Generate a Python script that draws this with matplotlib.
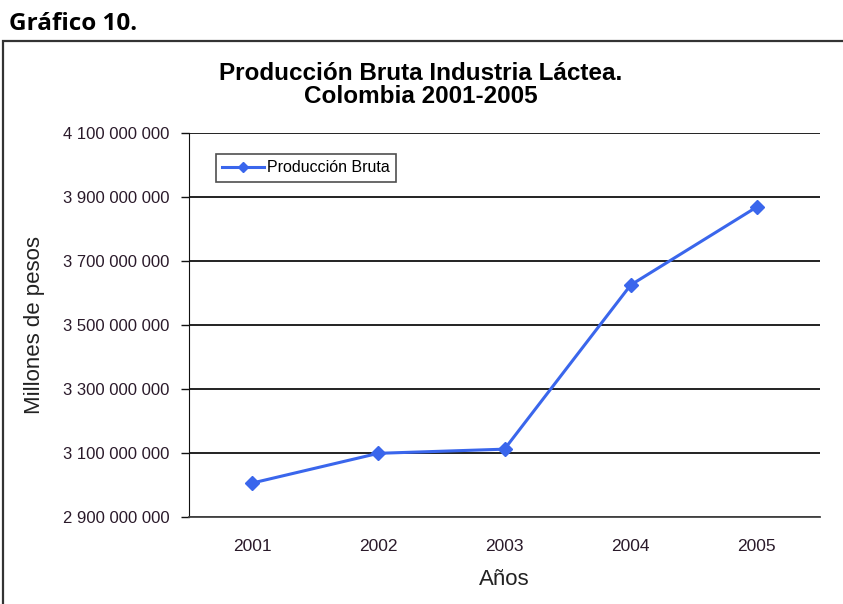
import matplotlib
matplotlib.use("Agg")
import matplotlib.pyplot as plt
from matplotlib.patches import Rectangle
from matplotlib.ticker import FuncFormatter, FixedLocator

years = ["2001", "2002", "2003", "2004", "2005"]
produccion = [3006000000, 3099000000, 3112000000, 3625000000, 3869000000]
y_ticks = [2900000000, 3100000000, 3300000000, 3500000000, 3700000000, 3900000000, 4100000000]

W, H = 843, 604
fig = plt.figure(figsize=(W / 100, H / 100), dpi=100)
fig.patch.set_facecolor("white")

# outer chart frame
fig.patches.append(Rectangle((2.5 / W, -0.05), 1.0, 1 - 41 / H + 0.05,
                             transform=fig.transFigure, fill=False,
                             edgecolor="#333333", linewidth=1.6))

fig.text(9 / W, 1 - 30 / H, "Gráfico 10.", fontsize=17.5, fontweight="bold",
         family="Open Sans", va="baseline", ha="left", color="black")

ax = fig.add_axes([189 / W, 1 - 517 / H, (820 - 189) / W, (517 - 133) / H])
x = list(range(1, len(years) + 1))
ax.plot(x, produccion, color="#3a66ec", linewidth=2.2, marker="D", markersize=7,
        markeredgecolor="#3a66ec", label="Producción Bruta", zorder=3)

ax.set_xlim(0.5, len(years) + 0.5)
ax.set_ylim(y_ticks[0], y_ticks[-1])
ax.yaxis.set_major_locator(FixedLocator(y_ticks))
ax.yaxis.set_major_formatter(FuncFormatter(lambda v, p: f"{int(round(v)):,}".replace(",", " ")))
ax.set_xticks(x)
ax.set_xticklabels(years)

ax.grid(axis="y", color="#111111", linewidth=1.3)
ax.set_axisbelow(True)
for s in ["top", "right"]:
    ax.spines[s].set_visible(False)
ax.spines["left"].set_color("#111111")
ax.spines["bottom"].set_color("#444444")
ax.spines["bottom"].set_linewidth(1.3)

ax.tick_params(axis="y", direction="out", length=6, width=1, color="#111111",
               labelsize=12, labelcolor="#2a1a2a", pad=8)
ax.tick_params(axis="x", length=0, labelsize=12.5, labelcolor="#2a1a2a", pad=16)
for lab in ax.get_xticklabels() + ax.get_yticklabels():
    lab.set_family("Liberation Sans")

ax.set_ylabel("Millones de pesos", fontsize=16, family="Liberation Sans",
              color="#222222")
ax.yaxis.set_label_coords(-0.229, 0.5)
ax.set_xlabel("Años", fontsize=16, family="Liberation Sans", color="#222222", labelpad=10.5)

fig.text(421 / W, 1 - 85 / H, "Producción Bruta Industria Láctea.\nColombia 2001-2005",
         fontsize=17.5, fontweight="bold", family="Liberation Sans", ha="center",
         va="center", linespacing=1.05, color="black")

leg = ax.legend(loc="upper left", bbox_to_anchor=(27 / 631, 1 - 21 / 384),
                frameon=True, fancybox=False, edgecolor="#222222",
                prop={"family": "Liberation Sans", "size": 11.5},
                handlelength=2.6, handletextpad=0.2, borderpad=0.4,
                markerscale=0.7, borderaxespad=0)
leg.get_frame().set_linewidth(1.2)

fig.savefig("out.png", dpi=100, facecolor="white")
